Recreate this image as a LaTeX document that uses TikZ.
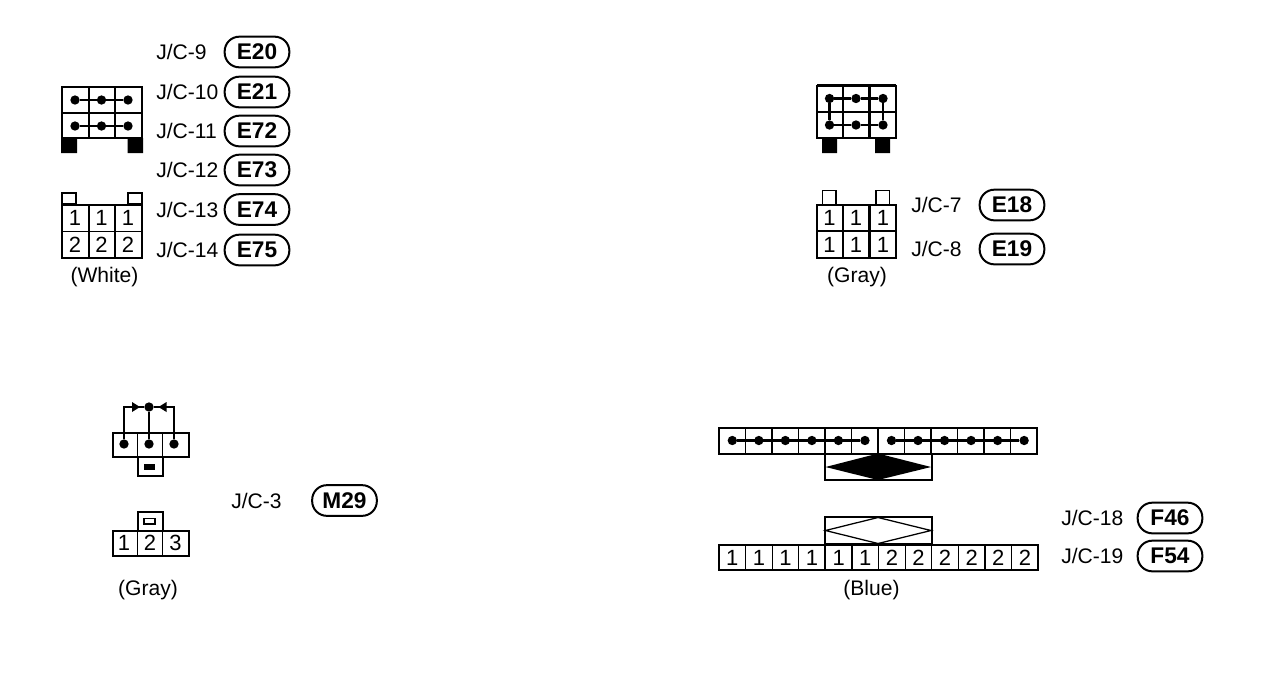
\documentclass[tikz,border=0pt]{standalone}
\usepackage{fontspec}
\setmainfont{Liberation Sans}
\tikzset{
  x=0.75pt,y=-0.75pt,
  outer/.style={draw=black,line width=1.5pt,line join=miter},
  inner/.style={draw=black,line width=0.95pt},
  heavy/.style={draw=black,line width=1.9pt},
  wire/.style={draw=black,line width=1.6pt},
  foot/.style={fill=black,draw=none},
  pin/.style={circle,fill=black,draw=none,minimum size=7pt,inner sep=0pt},
  lbl/.style={font=\fontsize{15.8}{18}\selectfont,anchor=west,inner sep=0pt},
  num/.style={font=\fontsize{16.5}{18}\selectfont,inner sep=0pt},
  color name/.style={font=\fontsize{15.8}{18}\selectfont,inner sep=0pt},
  badge/.style={draw=black,line width=1.5pt,rounded corners=11pt,minimum width=48.5pt,minimum height=23pt,inner sep=0pt,font=\fontsize{17}{18}\selectfont\bfseries}
}
\begin{document}
\begin{tikzpicture}
\useasboundingbox (0,0) rectangle (1280,690);
% ---------- top left ----------
\draw[outer] (62,87) rectangle (142,138);
\draw[outer] (62,113) -- (142,113);
\draw[inner] (89,87) -- (89,138) (115,87) -- (115,138);
\fill[foot] (61,138) rectangle (77,153) (127.5,138) rectangle (143,153);
\foreach \c/\x in {a/75,b/101.5,c/128}{
  \node[pin] (tl1\c) at (\x,100) {};
  \node[pin] (tl2\c) at (\x,126) {};
}
\draw[wire] (tl1a) -- (tl1b) -- (tl1c) (tl2a) -- (tl2b) -- (tl2c);
\draw[inner] (62,193) rectangle (76,204) (128,193) rectangle (142,204);
\draw[outer] (62,205) rectangle (142,258);
\draw[heavy] (62,205) -- (142,205);
\draw[inner] (62,231.5) -- (142,231.5) (89,205) -- (89,258) (115,205) -- (115,258);
\foreach \x/\n in {75/a,101.5/b,128/c}{
  \node[num] (tln1\n) at (\x,218) {1};
  \node[num] (tln2\n) at (\x,245) {2};
}
\node[color name] (white) at (104.5,277) {(White)};
\foreach \t/\e/\y in {9/E20/52,10/E21/92,11/E72/131,12/E73/170,13/E74/209.5,14/E75/250}{
  \node[lbl] (jc\t) at (156,\y) {J/C-\t};
  \node[badge] (b\e) at (257,\y) {\e};
}
% ---------- top right ----------
\draw[outer] (817,85.5) rectangle (896,138);
\draw[inner] (817,112) -- (896,112) (843,85.5) -- (843,138);
\draw[heavy] (869.5,85.5) -- (869.5,138) (896,85.5) -- (896,138) (817,85.5) -- (896,85.5);
\fill[foot] (822,138) rectangle (837,153) (875,138) rectangle (890,153);
\foreach \c/\x in {a/829.5,b/856,c/883}{
  \node[pin] (tr1\c) at (\x,98.5) {};
  \node[pin] (tr2\c) at (\x,125) {};
}
\draw[wire] (tr1a) -- (tr1b) -- (tr1c) -- (tr2c) -- (tr2b) -- (tr2a) -- (tr1a);
\draw[inner] (822.5,190.5) rectangle (836,205) (876,190.5) rectangle (889.5,205);
\draw[outer] (817,205) rectangle (896,258);
\draw[inner] (817,231) -- (896,231) (843,205) -- (843,258);
\draw[heavy] (869.5,205) -- (869.5,258);
\foreach \x/\n in {829.5/a,856/b,883/c}{
  \node[num] (trn1\n) at (\x,218) {1};
  \node[num] (trn2\n) at (\x,245) {1};
}
\node[color name] (gray1) at (857,277) {(Gray)};
\node[lbl] (jc7) at (911,205) {J/C-7};
\node[lbl] (jc8) at (911,248.5) {J/C-8};
\node[badge] (bE18) at (1012,205) {E18};
\node[badge] (bE19) at (1012,249) {E19};
% ---------- bottom left ----------
\draw[outer] (112.5,433) rectangle (188.5,457);
\draw[inner] (137.5,433) -- (137.5,457) (162.5,433) -- (162.5,457);
\draw[outer] (137.5,457) rectangle (162.5,476);
\fill[foot] (144,464) rectangle (155,469.5);
\foreach \c/\x in {a/124,b/149,c/174}{
  \node[pin] (bl\c) at (\x,444) {};
}
\node[pin] (blt) at (149,407) {};
\coordinate (bll) at (124,407);
\coordinate (blr) at (174,407);
\draw[wire] (bla) -- (bll) -- (blt) -- (blr) -- (blc) (blb) -- (blt);
\fill (132,402) -- (140,407) -- (132,412) -- cycle;
\fill (166.5,402) -- (158.5,407) -- (166.5,412) -- cycle;
\draw[outer] (137.5,512) rectangle (162.5,531);
\draw[inner] (144,518.5) rectangle (155,524);
\draw[outer] (112.5,531) rectangle (188.5,555.5);
\draw[inner] (137.5,531) -- (137.5,555.5) (162.5,531) -- (162.5,555.5);
\node[num] (bln1) at (124,543) {1};
\node[num] (bln2) at (150,543) {2};
\node[num] (bln3) at (175.5,543) {3};
\node[color name] (gray2) at (148,590) {(Gray)};
\node[lbl] (jc3) at (231,501) {J/C-3};
\node[badge] (bM29) at (344.5,500.5) {M29};
% ---------- bottom right ----------
\draw[outer] (719,428) rectangle (1037,454);
\foreach \i in {1,...,11}{
  \draw[inner] ({719+26.5*\i},428) -- ({719+26.5*\i},454);
}
\draw[heavy] (825,428) -- (825,454) (878,428) -- (878,454);
\foreach \i in {1,...,12}{
  \node[pin] (br\i) at ({732.3+26.53*(\i-1)},440.5) {};
}
\draw[wire] (br1) -- (br6) (br7) -- (br12);
\draw[outer] (825,454) rectangle (931.5,480);
\fill (825.5,467) -- (878,453.5) -- (931,467) -- (878,480) -- cycle;
\draw[outer] (825,517) rectangle (931.5,544);
\draw[inner] (825.5,530.5) -- (878,517.5) -- (931,530.5) -- (878,543.5) -- cycle;
\draw[outer] (719,544.5) rectangle (1038,570);
\foreach \i in {1,...,11}{
  \draw[inner] ({719+26.6*\i},544.5) -- ({719+26.6*\i},570);
}
\draw[heavy] (825,544.5) -- (825,570);
\foreach \i/\v in {1/1,2/1,3/1,4/1,5/1,6/1,7/2,8/2,9/2,10/2,11/2,12/2}{
  \node[num] (brn\i) at ({732.3+26.6*(\i-1)},557.5) {\v};
}
\node[color name] (blue) at (871.5,590) {(Blue)};
\node[lbl] (jc18) at (1061,518) {J/C-18};
\node[lbl] (jc19) at (1061,556) {J/C-19};
\node[badge] (bF46) at (1170,518) {F46};
\node[badge] (bF54) at (1170,556) {F54};
\end{tikzpicture}
\end{document}
